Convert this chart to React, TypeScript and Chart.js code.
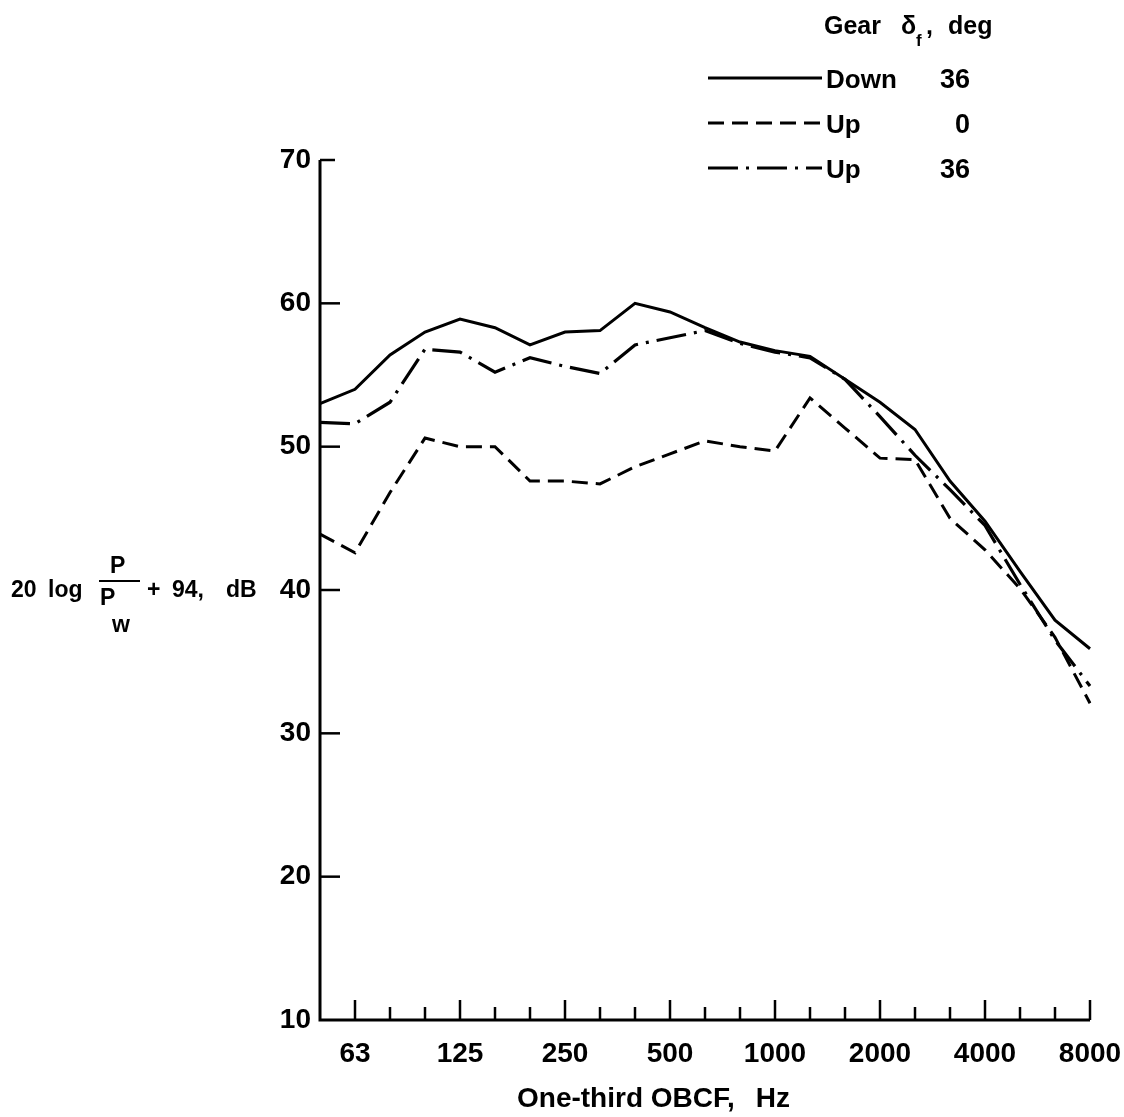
import React, { useEffect, useRef } from 'react';
import { Chart, registerables } from 'chart.js';

Chart.register(...registerables);

// One-third octave band centre frequencies, Hz (50 Hz sits at the axis origin)
const bandCenters = ['50', '63', '80', '100', '125', '160', '200', '250', '315', '400', '500', '630', '800', '1000', '1250', '1600', '2000', '2500', '3150', '4000', '5000', '6300', '8000'];
const labeledBands = ['63', '125', '250', '500', '1000', '2000', '4000', '8000'];

// 20 log P/Pw + 94, dB
const gearDown36 = [53.0, 54.0, 56.4, 58.0, 58.9, 58.3, 57.1, 58.0, 58.1, 60.0, 59.4, 58.3, 57.3, 56.7, 56.3, 54.7, 53.1, 51.2, 47.6, 44.8, 41.3, 37.9, 35.9];
const gearUp0 = [43.9, 42.6, 46.8, 50.6, 50.0, 50.0, 47.6, 47.6, 47.4, 48.6, 49.5, 50.4, 50.0, 49.7, 53.4, 51.3, 49.2, 49.1, 45.0, 42.8, 40.1, 36.7, 32.1];
const gearUp36 = [51.7, 51.6, 53.1, 56.8, 56.6, 55.2, 56.2, 55.6, 55.1, 57.1, 57.6, 58.1, 57.2, 56.6, 56.2, 54.7, 52.1, 49.4, 47.0, 44.5, 40.4, 36.5, 33.3];

const yTickValues = [10, 20, 30, 40, 50, 60, 70];

const FONT = '"Liberation Sans", Arial, sans-serif';
const W = 'bold';

const DASHED = [16, 8];
const DASH_DOT = [30, 8, 3, 8];

const decorations = {
  id: 'decorations',
  afterDraw(chart: any) {
    const ctx: CanvasRenderingContext2D = chart.ctx;
    const xs = chart.scales.x;
    const ys = chart.scales.y;
    const x0 = xs.getPixelForValue(0);
    const x1 = xs.getPixelForValue(bandCenters.length - 1);
    const yBot = ys.getPixelForValue(yTickValues[0]);
    const yTop = ys.getPixelForValue(yTickValues[yTickValues.length - 1]);

    ctx.save();
    ctx.strokeStyle = '#000';
    ctx.fillStyle = '#000';
    ctx.setLineDash([]);

    // axes
    ctx.lineWidth = 3;
    ctx.lineJoin = 'miter';
    ctx.beginPath();
    ctx.moveTo(x0, yTop);
    ctx.lineTo(x0, yBot);
    ctx.lineTo(x1, yBot);
    ctx.stroke();

    // x ticks (pointing up, inside)
    ctx.lineWidth = 2.5;
    for (let i = 1; i < bandCenters.length; i++) {
      const x = xs.getPixelForValue(i);
      const len = labeledBands.includes(bandCenters[i]) ? 20 : 13;
      ctx.beginPath();
      ctx.moveTo(x, yBot);
      ctx.lineTo(x, yBot - len);
      ctx.stroke();
    }
    // y ticks (pointing right, inside)
    for (let k = 1; k < yTickValues.length; k++) {
      const v = yTickValues[k];
      const y = ys.getPixelForValue(v);
      const len = k === yTickValues.length - 1 ? 15 : 20;
      ctx.beginPath();
      ctx.moveTo(x0, y);
      ctx.lineTo(x0 + len, y);
      ctx.stroke();
    }

    // x axis title
    ctx.textBaseline = 'alphabetic';
    ctx.textAlign = 'left';
    ctx.font = `${W} 28px ${FONT}`;
    ctx.fillText('One-third OBCF,', 517, 1107);
    ctx.textAlign = 'right';
    ctx.fillText('Hz', 790, 1107);

    // y axis title: 20 log P/Pw + 94, dB
    ctx.textAlign = 'left';
    ctx.font = `${W} 23px ${FONT}`;
    ctx.fillText('20', 11, 597);
    ctx.fillText('log', 48, 597);
    ctx.fillText('P', 110, 573);
    ctx.fillText('P', 100, 605);
    ctx.fillText('w', 112, 632);
    ctx.lineWidth = 2;
    ctx.beginPath();
    ctx.moveTo(99, 581);
    ctx.lineTo(140, 581);
    ctx.stroke();
    ctx.fillText('+', 147, 597);
    ctx.fillText('94,', 172, 597);
    ctx.fillText('dB', 226, 597);

    // legend table
    ctx.font = `${W} 25px ${FONT}`;
    ctx.fillText('Gear', 824, 34);
    ctx.fillText('δ', 901, 34);
    ctx.font = `${W} 17px ${FONT}`;
    ctx.fillText('f', 916, 46);
    ctx.font = `${W} 25px ${FONT}`;
    ctx.fillText(',', 926, 34);
    ctx.fillText('deg', 948, 34);

    const rows = [
      { dash: [] as number[], y: 78, gear: 'Down', defl: '36', base: 88 },
      { dash: DASHED, y: 123, gear: 'Up', defl: '0', base: 133 },
      { dash: DASH_DOT, y: 168, gear: 'Up', defl: '36', base: 178 },
    ];
    for (const r of rows) {
      ctx.lineWidth = 3;
      ctx.setLineDash(r.dash);
      ctx.beginPath();
      ctx.moveTo(708, r.y);
      ctx.lineTo(822, r.y);
      ctx.stroke();
      ctx.setLineDash([]);
      ctx.textAlign = 'left';
      ctx.font = `${W} 26px ${FONT}`;
      ctx.fillText(r.gear, 826, r.base);
      ctx.textAlign = 'right';
      ctx.font = `${W} 27px ${FONT}`;
      ctx.fillText(r.defl, 970, r.base);
    }
    ctx.restore();
  },
};

export default function App() {
  const canvasRef = useRef<HTMLCanvasElement | null>(null);

  useEffect(() => {
    if (!canvasRef.current) return;
    const chart = new Chart(canvasRef.current, {
      type: 'line',
      data: {
        labels: bandCenters,
        datasets: [
          {
            label: 'Gear down, δf = 36 deg',
            data: gearDown36,
            borderColor: '#000',
            borderWidth: 3,
            pointRadius: 0,
            tension: 0,
            fill: false,
          },
          {
            label: 'Gear up, δf = 0 deg',
            data: gearUp0,
            borderColor: '#000',
            borderWidth: 3,
            borderDash: DASHED,
            pointRadius: 0,
            tension: 0,
            fill: false,
          },
          {
            label: 'Gear up, δf = 36 deg',
            data: gearUp36,
            borderColor: '#000',
            borderWidth: 3.2,
            borderDash: DASH_DOT,
            pointRadius: 0,
            tension: 0,
            fill: false,
          },
        ],
      },
      options: {
        responsive: false,
        animation: false,
        layout: { padding: { left: 0, top: 160, right: 34, bottom: 0 } },
        plugins: {
          legend: { display: false },
          tooltip: { enabled: false },
          title: { display: false },
        },
        scales: {
          x: {
            type: 'category',
            offset: false,
            grid: { display: false, drawTicks: false },
            border: { display: false },
            ticks: {
              autoSkip: false,
              maxRotation: 0,
              padding: 17,
              color: '#000',
              font: { family: FONT, size: 28, weight: W },
              callback: (_v: any, i: number) => (labeledBands.includes(bandCenters[i]) ? bandCenters[i] : ''),
            },
            afterFit: (s: any) => {
              s.height = 97;
              s.paddingLeft = 0;
              s.paddingRight = 0;
            },
          },
          y: {
            type: 'linear',
            min: yTickValues[0],
            max: yTickValues[yTickValues.length - 1],
            grid: { display: false, drawTicks: false },
            border: { display: false },
            ticks: {
              stepSize: 10,
              padding: 9,
              color: '#000',
              font: { family: FONT, size: 28, weight: W },
            },
            afterFit: (s: any) => {
              s.width = 320;
            },
          },
        },
      },
      plugins: [decorations],
    });
    return () => chart.destroy();
  }, []);

  return (
    <div style={{ position: 'absolute', left: 0, top: 0, width: 1124, height: 1117, background: '#fff' }}>
      <canvas ref={canvasRef} width={1124} height={1117} />
    </div>
  );
}
